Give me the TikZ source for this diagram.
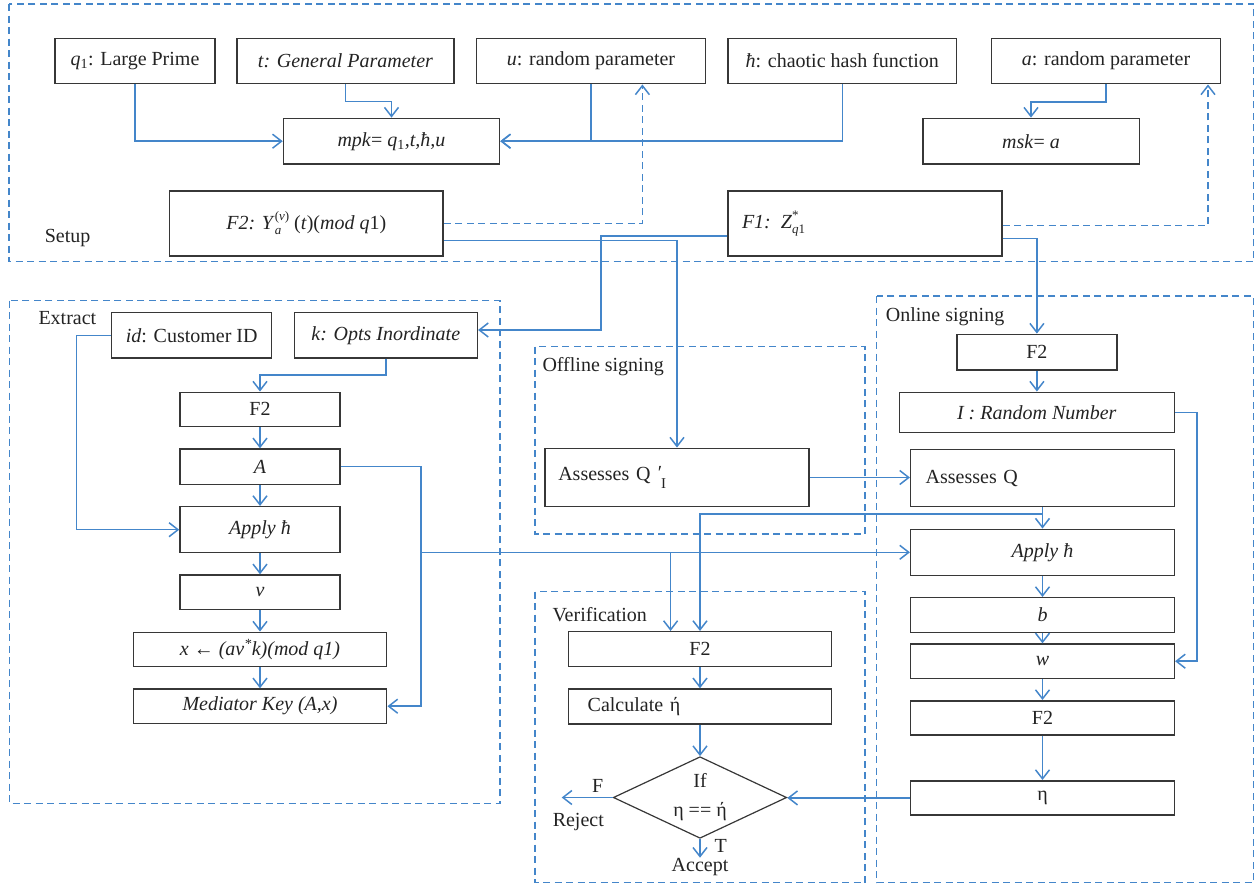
\documentclass[tikz,border=0pt]{standalone}
\usepackage{fontspec}
\setmainfont{Liberation Serif}
\usetikzlibrary{arrows.meta,shapes.geometric}
\definecolor{ln}{RGB}{68,134,202}
\definecolor{bd}{RGB}{55,55,55}
\definecolor{tx}{RGB}{35,35,35}
\newcommand\smallfs{\fontsize{13}{13}\selectfont}
\begin{document}
\begin{tikzpicture}[x=1pt,y=-1pt,
  box/.style={draw=bd,line width=1.5pt,rectangle,inner sep=0pt,text=tx,font=\fontsize{20}{24}\selectfont,align=center},
  lbox/.style={box,align=left,inner xsep=#1},
  con/.style={draw=ln,line width=1.5pt},
  tip/.style={-{Straight Barb[length=9pt,width=14pt]}},
  arr/.style={con,tip},
  dsh/.style={draw=ln,line width=1.5pt,dash pattern=on 7pt off 4.5pt},
  lab/.style={text=tx,font=\fontsize{20}{24}\selectfont,inner sep=0pt}
]
\useasboundingbox (0,0) rectangle (1258,887);
% dashed regions
\draw[dsh] (8.8,4) rectangle (1253.7,261.7);
\draw[dsh] (9.3,300.7) rectangle (500,803.3);
\draw[dsh] (535,346.7) rectangle (865,534);
\draw[dsh] (535,591.7) rectangle (865,882.7);
\draw[dsh] (876.7,296) rectangle (1253.3,882.7);
% region labels
\node[lab,anchor=west] (lsetup) at (44.6,238) {Setup};
\node[lab,anchor=west] (lextract) at (38.3,318.3) {Extract};
\node[lab,anchor=west] (loff) at (542.3,366.7) {Offline signing};
\node[lab,anchor=west] (lver) at (552.3,614.3) {Verification};
\node[lab,anchor=west] (lon) at (885.7,316.7) {Online signing};
% setup nodes
\node[box,minimum width=160pt,minimum height=45.4pt] (q1) at (135,61) {\textit{q}\textsubscript{1}: Large Prime};
\node[box,minimum width=217pt,minimum height=45.4pt] (t) at (345.5,61) {\textit{t: General Parameter}};
\node[box,minimum width=229pt,minimum height=45.4pt] (u) at (591,61) {\textit{u}: random parameter};
\node[box,minimum width=228.6pt,minimum height=45.4pt] (hash) at (842.3,61) {\textit{ħ}: chaotic hash function};
\node[box,minimum width=228.7pt,minimum height=45.4pt] (a) at (1106,61) {\textit{a}: random parameter};
\node[box,minimum width=216pt,minimum height=45.7pt] (mpk) at (391.5,141.2) {\textit{mpk}= \textit{q}\textsubscript{1}\textit{,t,ħ,u}};
\node[box,minimum width=216.5pt,minimum height=45.7pt] (msk) at (1031,141.2) {\textit{msk}= \textit{a}};
\node[box,minimum width=273.5pt,minimum height=65pt] (F2Y) at (306.3,223.5) {\textit{F2: Υ}\rlap{\raisebox{-5pt}{\smallfs\textit{a}}}\raisebox{9pt}{\smallfs(\textit{v})} (\textit{t})(\textit{mod q}1)};
\node[lbox=14pt,text width=245.8pt,minimum width=273.8pt,minimum height=65pt] (F1) at (864.9,223.5) {\textit{F1: Z}\rlap{\raisebox{9pt}{\smallfs*}}\raisebox{-5pt}{\smallfs\textit{q}1}};
% extract nodes
\node[box,minimum width=160pt,minimum height=45.3pt] (id) at (191.7,335.3) {\textit{id}: Customer ID};
\node[box,minimum width=183pt,minimum height=45.3pt] (k) at (385.8,335.3) {\textit{k: Opts Inordinate}};
\node[box,minimum width=160pt,minimum height=34pt] (F2e) at (260,409.3) {F2};
\node[box,minimum width=160pt,minimum height=35.3pt] (A) at (260,466.7) {\textit{A}};
\node[box,minimum width=160pt,minimum height=46pt] (ApplyE) at (260,529.7) {\textit{Apply ħ}};
\node[box,minimum width=160pt,minimum height=34.3pt] (v) at (260,592.2) {\textit{v}};
\node[box,minimum width=253.4pt,minimum height=34.4pt] (xk) at (260,649.5) {\textit{x} ← \textit{(av\textsuperscript{*}k)(mod q1)}};
\node[box,minimum width=253.4pt,minimum height=34.3pt] (Med) at (260,706.2) {\textit{Mediator Key (A,x)}};
% offline
\node[lbox=13.3pt,text width=237.4pt,minimum width=264pt,minimum height=58.4pt] (AQI) at (677,477.5) {Assesses Q\hspace{0.3em}\raisebox{0.05em}{\textit{′}}\raisebox{-0.4em}{\fontsize{15}{18}\selectfont I}};
% online
\node[box,minimum width=160.3pt,minimum height=35.7pt] (F2o) at (1036.9,352.2) {F2};
\node[box,minimum width=275pt,minimum height=40pt] (I) at (1036.8,412.3) {\textit{I : Random Number}};
\node[lbox=15pt,text width=233.6pt,minimum width=263.6pt,minimum height=57.4pt] (AQ) at (1042.5,478) {Assesses Q};
\node[box,minimum width=263.6pt,minimum height=46pt] (ApplyO) at (1042.5,552.3) {\textit{Apply ħ}};
\node[box,minimum width=263.6pt,minimum height=34.6pt] (b) at (1042.5,615) {\textit{b}};
\node[box,minimum width=263.6pt,minimum height=34.3pt] (w) at (1042.5,661.2) {\textit{w}};
\node[box,minimum width=263.6pt,minimum height=34.3pt] (F2o2) at (1042.5,717.9) {F2};
\node[box,minimum width=263.6pt,minimum height=34.3pt] (eta) at (1042.5,797.9) {η};
% verification
\node[box,minimum width=263.4pt,minimum height=35pt] (F2v) at (700,649.2) {F2};
\node[lbox=19.4pt,text width=224.6pt,minimum width=263.4pt,minimum height=35pt] (Calc) at (700,706.5) {Calculate ή};
\node[diamond,draw=bd,line width=1.2pt,inner sep=0pt,minimum width=173.4pt,minimum height=81.6pt] (dia) at (700,797.5) {};
\node[lab,align=center,font=\fontsize{20}{29}\selectfont] (diatxt) at (700,797.5) {If\\η == ή};
\node[lab] (lF) at (597.7,785.7) {F};
\node[lab] (lrej) at (578.3,821.7) {Reject};
\node[lab] (lT) at (720.7,845.7) {T};
\node[lab] (lacc) at (700,867.3) {Accept};
% setup connectors
\draw[arr] (q1.south) |- (mpk.west);
\draw[arr] (t.south) -- ++(0,17) -| (mpk.north);
\draw[arr] (u.south) |- (mpk.east);
\draw[arr] (hash.south) |- (mpk.east);
\draw[arr] (a.south) -- ++(0,17.7) -| (msk.north);
\coordinate (ud) at ([xshift=51.4pt]u.south);
\coordinate (ad) at ([xshift=102pt]a.south);
\draw[dsh,tip] (F2Y.east) -| (ud);
\draw[dsh,tip] ([yshift=-1.8pt]F1.east) -| (ad);
\draw[arr] ([yshift=-17.2pt]F2Y.east) -| (AQI.north);
\draw[arr] ([yshift=-15.2pt]F1.east) -| (F2o.north);
\draw[arr] ([yshift=-12.5pt]F1.west) -- ++(-126.1,0) |- ([yshift=5.3pt]k.east);
% extract connectors
\draw[arr] (id.west) -- ++(-34.7,0) |- (ApplyE.west);
\draw[arr] (k.south) -- ++(0,16.3) -| (F2e.north);
\draw[arr] (F2e.south) -- (A.north);
\draw[arr] (A.south) -- (ApplyE.north);
\draw[arr] (ApplyE.south) -- (v.north);
\draw[arr] (v.south) -- (xk.north);
\draw[arr] (xk.south) -- (Med.north);
\draw[arr] (A.east) -- ++(80,0) |- (Med.east);
\path (A.east) ++(80,0) coordinate (aj);
\draw[arr] (aj |- ApplyO.west) -- (ApplyO.west);
\coordinate (vb) at ([xshift=-29.4pt]F2v.north);
\draw[arr] (vb |- ApplyO.west) -- (vb);
% offline / online connectors
\draw[arr] (AQI.east) -- (AQI.east -| AQ.west);
\draw[arr] (AQ.south) -- (ApplyO.north);
\coordinate (qj) at ([yshift=-6.6pt]AQ.south);
\draw[arr] (qj) -| (F2v.north);
\draw[arr] (F2o.south) -- (F2o.south |- I.north);
\draw[arr] (I.east) -- ++(21.7,0) |- (w.east);
\draw[arr] (ApplyO.south) -- (b.north);
\draw[arr] (b.south) -- (w.north);
\draw[arr] (w.south) -- (F2o2.north);
\draw[arr] (F2o2.south) -- (eta.north);
\draw[arr] (eta.west) -- (eta.west -| dia.east);
% verification connectors
\draw[arr] (F2v.south) -- (Calc.north);
\draw[arr] (Calc.south) -- (dia.north);
\coordinate (rej) at (561.7,797.5);
\coordinate (acc) at (700,857.7);
\draw[arr] (dia.west) -- (rej);
\draw[arr] (dia.south) -- (acc);
\end{tikzpicture}
\end{document}
